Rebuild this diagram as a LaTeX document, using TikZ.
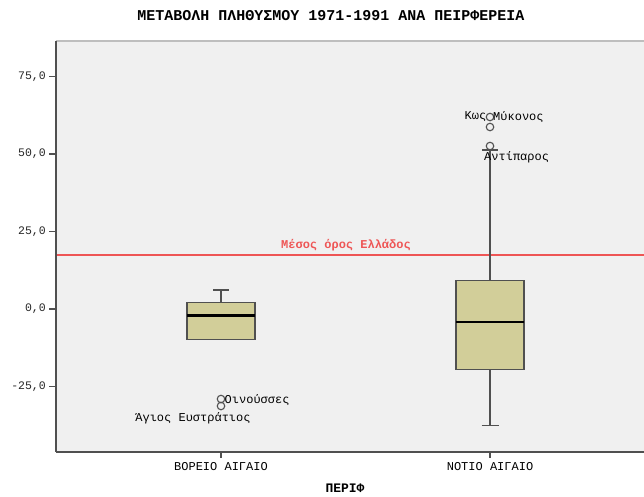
\documentclass[tikz,border=0pt]{standalone}
\usepackage{fontspec}
\setmainfont{Liberation Mono}
\definecolor{plotbg}{RGB}{240,240,240}
\definecolor{boxfill}{RGB}{210,206,153}
\definecolor{axisgray}{RGB}{80,80,80}
\definecolor{topgray}{RGB}{190,190,190}
\definecolor{meanred}{RGB}{238,85,85}
\begin{document}
\begin{tikzpicture}[x=1pt,y=-1pt,
  ticklab/.style={anchor=east,inner sep=0pt,font=\fontsize{11.5}{12}\selectfont,text=black!85},
  catlab/.style={anchor=center,inner sep=0pt,font=\fontsize{12}{12}\selectfont},
  outlab/.style={inner sep=0pt,font=\fontsize{12}{12}\selectfont},
  bxp/.style={draw=axisgray,line width=1.2pt,fill=boxfill},
  whisk/.style={draw=axisgray,line width=1.6pt},
  medln/.style={draw=black,line width=2.6pt},
  outl/.style={circle,draw=axisgray,line width=1.1pt,minimum size=7.5pt,inner sep=0pt},
  axln/.style={draw=axisgray,line width=1.8pt}]
\useasboundingbox (0,0) rectangle (644,496);
% plot background
\fill[plotbg] (56,41) rectangle (644,452);
\draw[topgray,line width=1.5pt] (56,41) -- (644,41);
% title
\node[font=\fontsize{15}{15}\selectfont\bfseries,inner sep=0pt] (title) at (331,16) {ΜΕΤΑΒΟΛΗ ΠΛΗΘΥΣΜΟΥ 1971-1991 ΑΝΑ ΠΕΙΡΦΕΡΕΙΑ};
% y ticks
\foreach \v/\t [count=\i] in {75/{75,0},50/{50,0},25/{25,0},0/{0,0},-25/{-25,0}}{
  \coordinate (yt\i) at (56,309-3.1*\v);
  \coordinate (ys\i) at (49,309-3.1*\v);
  \draw[axln,line width=1.4pt] (ys\i) -- (yt\i);
  \node[ticklab] (yl\i) at (46,309-3.1*\v) {\t};
}
% mean line
\coordinate (mL) at (56,255);
\coordinate (mR) at (644,255);
\draw[meanred,line width=1.8pt] (mL) -- (mR);
\node[font=\fontsize{12}{12}\selectfont\bfseries,text=meanred,inner sep=0pt] (meanlab) at (346,245) {Μέσος όρος Ελλάδος};
% box 1
\coordinate (b1top) at (221,302.7);
\coordinate (b1cap) at (221,289.7);
\coordinate (b1capL) at (213,289.7);
\coordinate (b1capR) at (229,289.7);
\draw[whisk] (b1top) -- (b1cap);
\draw[whisk] (b1capL) -- (b1capR);
\draw[bxp] (187,302.7) rectangle (255,339.3);
\coordinate (b1mL) at (187,315.7);
\coordinate (b1mR) at (255,315.7);
\draw[medln] (b1mL) -- (b1mR);
\node[outl] (o1) at (221,399) {};
\node[outl] (o2) at (221,406) {};
\node[outlab,anchor=west] (l1) at (224.5,400) {Οινούσσες};
\node[outlab,anchor=center] (l2) at (193,418) {Άγιος Ευστράτιος};
% box 2
\coordinate (b2top) at (490,280.3);
\coordinate (b2cap) at (490,150);
\coordinate (b2capL) at (482,150);
\coordinate (b2capR) at (498,150);
\coordinate (b2bot) at (490,369.3);
\coordinate (b2lcap) at (490,425.3);
\coordinate (b2lcapL) at (481.5,425.3);
\coordinate (b2lcapR) at (499,425.3);
\draw[whisk] (b2top) -- (b2cap);
\draw[whisk] (b2capL) -- (b2capR);
\draw[whisk] (b2bot) -- (b2lcap);
\draw[whisk] (b2lcapL) -- (b2lcapR);
\draw[bxp] (456,280.3) rectangle (524,369.3);
\coordinate (b2mL) at (456,322);
\coordinate (b2mR) at (524,322);
\draw[medln] (b2mL) -- (b2mR);
\node[outl] (o3) at (490,117) {};
\node[outl] (o4) at (490,127) {};
\node[outl] (o5) at (490,146) {};
\node[outlab,anchor=east] (l3) at (486.5,117) {Κως};
\node[outlab,anchor=west] (l4) at (493,117) {Μύκονος};
\node[outlab,anchor=west] (l5) at (484,157) {Αντίπαρος};
% axes
\draw[axln] (56,41) -- (56,452);
\draw[axln] (56,452) -- (644,452);
\coordinate (xt1) at (221,452);
\coordinate (xs1) at (221,458);
\coordinate (xt2) at (490,452);
\coordinate (xs2) at (490,458);
\draw[axln,line width=1.4pt] (xt1) -- (xs1);
\draw[axln,line width=1.4pt] (xt2) -- (xs2);
\node[catlab] (c1) at (221,467) {ΒΟΡΕΙΟ ΑΙΓΑΙΟ};
\node[catlab] (c2) at (490,467) {ΝΟΤΙΟ ΑΙΓΑΙΟ};
\node[font=\fontsize{13}{13}\selectfont\bfseries,inner sep=0pt] (xtitle) at (345,488) {ΠΕΡΙΦ};
\end{tikzpicture}
\end{document}
